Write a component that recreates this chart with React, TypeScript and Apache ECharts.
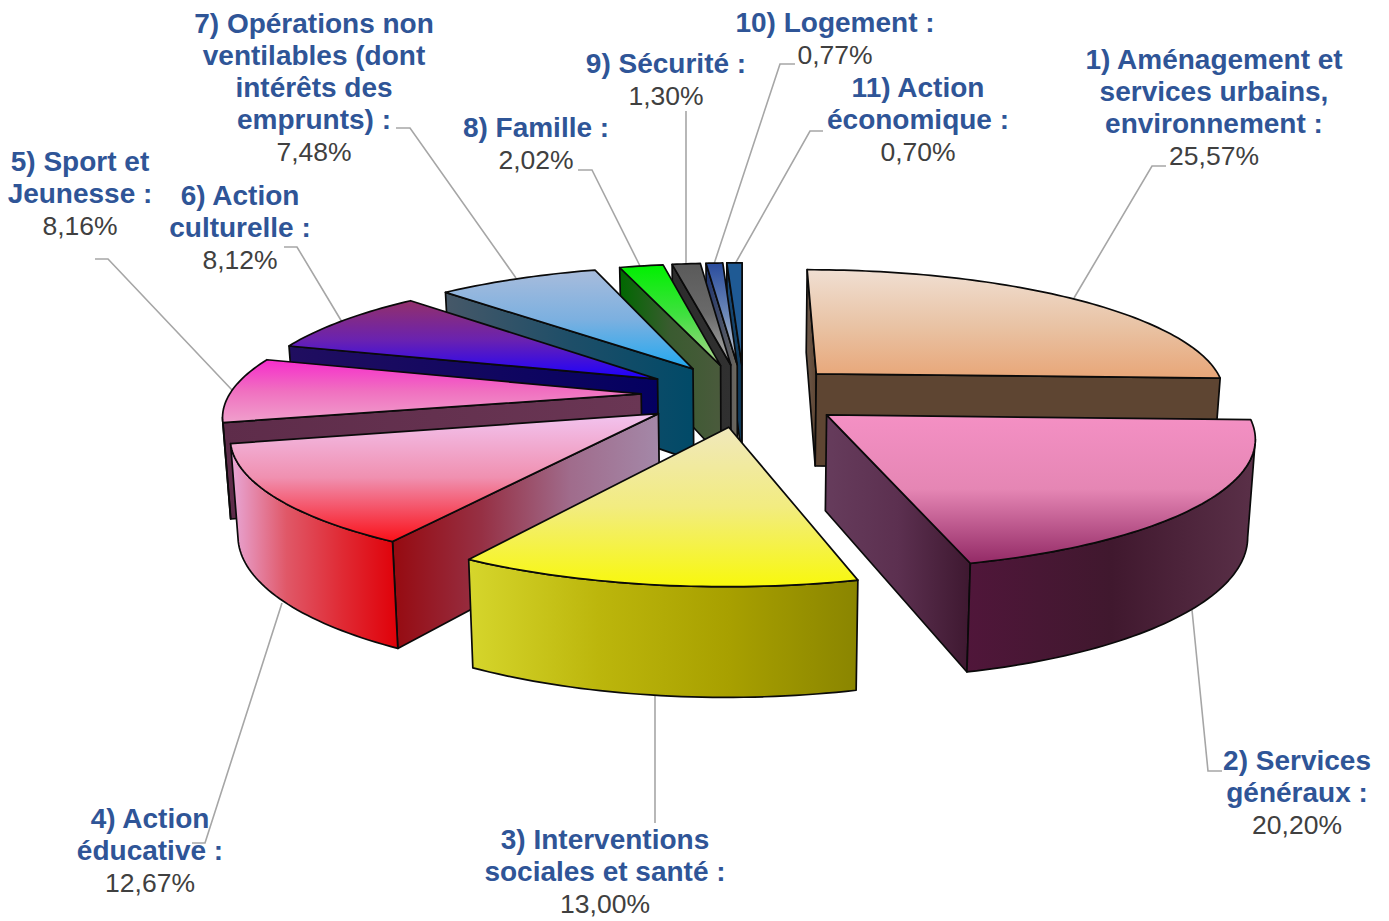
import React, { useEffect, useRef } from "react";
import * as echarts from "echarts";

const categories = [
  "1) Aménagement et services urbains, environnement",
  "2) Services généraux",
  "3) Interventions sociales et santé",
  "4) Action éducative",
  "5) Sport et Jeunesse",
  "6) Action culturelle",
  "7) Opérations non ventilables (dont intérêts des emprunts)",
  "8) Famille",
  "9) Sécurité",
  "10) Logement",
  "11) Action économique",
];
const sliceValues = [25.57, 20.2, 13.0, 12.67, 8.16, 8.12, 7.48, 2.02, 1.3, 0.77, 0.7];
const labelLines = [
  ["1) Aménagement et", "services urbains,", "environnement :"],
  ["2) Services", "généraux :"],
  ["3) Interventions", "sociales et santé :"],
  ["4) Action", "éducative :"],
  ["5) Sport et", "Jeunesse :"],
  ["6) Action", "culturelle :"],
  ["7) Opérations non", "ventilables (dont", "intérêts des", "emprunts) :"],
  ["8) Famille :"],
  ["9) Sécurité :"],
  ["10) Logement :"],
  ["11) Action", "économique :"],
];
const labelAnchors = [
  [1214, 60], [1297, 761], [605, 840], [150, 819], [80, 162], [240, 196],
  [314, 24], [536, 128], [666, 64], [835, 23], [918, 88],
];
const leaderLines = [
  [[1166, 166], [1152, 166], [1074, 298]],
  [[1222, 771], [1208, 771], [1192, 610]],
  [[655, 823], [655, 695]],
  [[192, 843], [205, 843], [282, 603]],
  [[95, 259], [108, 259], [232, 390]],
  [[284, 247], [297, 247], [342, 322]],
  [[396, 128], [410, 128], [516, 278]],
  [[578, 170], [592, 170], [640, 266]],
  [[686, 111], [686, 265]],
  [[795, 64], [780, 64], [714, 264]],
  [[823, 131], [810, 131], [735, 264]],
];
const topColors = [
  ["#F0DFD2", "#E9C4A6", "#E8A678"],
  ["#F490C4", "#E586B4", "#932A66"],
  ["#F0E8BC", "#F2EC80", "#F8F80C"],
  ["#F2C4F0", "#F090B0", "#FA1018"],
  ["#F62CCC", "#F070C0", "#F0A0CC"],
  ["#93306A", "#6A22B0", "#1C00FF"],
  ["#A8BCDC", "#7CB0E0", "#20A8F0"],
  ["#00F000", "#40E040", "#B0D090"],
  ["#5A5A5A", "#6A6A6A", "#B0B0B0"],
  ["#2A4C9C", "#6C88B8", "#D0D0D0"],
  ["#1F5A94", "#1F5A94", "#2A6090"],
];
const outerWallColors = [
  ["#5E4532", "#5E4532"],
  ["#50163A", "#40182E", "#5A3048"],
  ["#D6D62C", "#BCB60C", "#A8A000", "#8A8500"],
  ["#E8A8D8", "#E05868", "#E02A34", "#E00008"],
  ["#63324F", "#63324F"],
  ["#1C0B60", "#050060"],
  ["#415566", "#024A66"],
  ["#0A6A0A", "#4A5A3A"],
  ["#2E2E2E", "#2E2E2E"],
  ["#1F3570", "#706A5C"],
  ["#1A4A78", "#0F3A5A"],
];
const startWallColors = [
  ["#6E5A4C", "#5E4532"],
  ["#50163A", "#50163A"],
  ["#868000", "#868000"],
  ["#960A10", "#963044", "#A06C8C", "#A488A8"],
  ["#5E2C4A", "#6A3654"],
  ["#200E60", "#040060"],
  ["#465868", "#1E4E68", "#014A68"],
  ["#006800", "#3A5B30", "#4A5A3C"],
  ["#2C2C2C", "#303030"],
  ["#1F3570", "#706A5C"],
  ["#1A4A78", "#0F3A5A"],
];
const endWallColors = [
  ["#5E4532", "#5E4532"],
  ["#663C5C", "#5C3050", "#3E1830"],
];

const CX = 744, CY = 395, AX = 412, BZ = 125.3, K = 0.148, EXPLODE = 0.25, RADIUS = 1, THICK = 94;
const TOTAL = sliceValues.reduce((a, b) => a + b, 0);
const bounds: number[] = [0];
sliceValues.forEach((v, i) => bounds.push(bounds[i] + (v / TOTAL) * Math.PI * 2));

function top(X: number, Z: number) {
  const s = 1 / (1 - K * Z);
  return [CX + AX * X * s, CY + BZ * Z * s];
}
function bottom(X: number, Z: number) {
  const s = 1 / (1 - K * Z);
  const p = top(X, Z);
  return [CX + (p[0] - CX) * 0.985, p[1] + THICK * Math.pow(s, 0.8)];
}
function grad(colors: string[], horizontal: boolean) {
  const stops = colors.map((color, i) => ({ offset: i / (colors.length - 1), color }));
  return new echarts.graphic.LinearGradient(0, 0, horizontal ? 1 : 0, horizontal ? 0 : 1, stops);
}
const midAngle = (i: number) => (bounds[i] + bounds[i + 1]) / 2;
const order = sliceValues.map((_, i) => i).sort((a, b) => -Math.cos(midAngle(a)) + Math.cos(midAngle(b)));

function renderSlice(_params: any, api: any) {
  const i = api.value(0) as number;
  const mid = midAngle(i);
  const ox = EXPLODE * Math.sin(mid);
  const oz = -EXPLODE * Math.cos(mid);
  const N = Math.max(6, Math.ceil(sliceValues[i] * 3));
  const world: number[][] = [];
  for (let n = 0; n <= N; n++) {
    const t = bounds[i] + ((bounds[i + 1] - bounds[i]) * n) / N;
    world.push([ox + RADIUS * Math.sin(t), oz - RADIUS * Math.cos(t)]);
  }
  const tops = world.map((w) => top(w[0], w[1]));
  const bots = world.map((w) => bottom(w[0], w[1]));
  const aT = top(ox, oz);
  const aB = bottom(ox, oz);
  const line = { stroke: "#0a0a0a", lineWidth: 1.7, lineJoin: "round" };
  const children: any[] = [];
  const wall = (points: number[][], colors: string[]) =>
    children.push({ type: "polygon", shape: { points }, style: { fill: grad(colors, true), ...line } });
  if (tops[0][0] < aT[0]) wall([aT, tops[0], bots[0], aB], startWallColors[i]);
  if (tops[N][0] > aT[0]) wall([aT, tops[N], bots[N], aB], endWallColors[i] || outerWallColors[i]);
  const tp: number[][] = [];
  const bp: number[][] = [];
  for (let n = 0; n < N; n++) {
    if (tops[n + 1][0] < tops[n][0]) {
      if (!tp.length) { tp.push(tops[n]); bp.push(bots[n]); }
      tp.push(tops[n + 1]);
      bp.push(bots[n + 1]);
    }
  }
  if (tp.length) wall([...tp, ...bp.reverse()], outerWallColors[i]);
  children.push({
    type: "polygon",
    shape: { points: [aT, ...tops] },
    style: { fill: grad(topColors[i], false), ...line },
  });
  return { type: "group", children };
}

function percent(v: number) {
  return v.toFixed(2).replace(".", ",") + "%";
}

function buildGraphics() {
  const els: any[] = [];
  leaderLines.forEach((points) => {
    els.push({ type: "polyline", z: 0, shape: { points }, style: { fill: "none", stroke: "#A6A6A6", lineWidth: 1.6 } });
  });
  labelLines.forEach((lines, i) => {
    const [x, y] = labelAnchors[i];
    const font = "Liberation Sans";
    lines.forEach((text, n) => {
      els.push({
        type: "text", z: 5, x, y: y - 1 + n * 32.2,
        style: { text, fill: "#2F5597", font: `bold 28px "${font}"`, textAlign: "center", textVerticalAlign: "middle" },
      });
    });
    els.push({
      type: "text", z: 5, x, y: y + lines.length * 32 - 0.5,
      style: { text: percent(sliceValues[i]), fill: "#404040", font: `26.5px "${font}"`, textAlign: "center", textVerticalAlign: "middle" },
    });
  });
  return els;
}

export default function App() {
  const ref = useRef<HTMLDivElement>(null);
  useEffect(() => {
    document.body.style.margin = "0";
    const chart = echarts.init(ref.current!, undefined, { renderer: "svg" });
    chart.setOption({
      animation: false,
      backgroundColor: "#ffffff",
      graphic: { elements: buildGraphics() },
      series: [
        {
          type: "custom",
          name: categories.join(" / "),
          coordinateSystem: "none",
          silent: true,
          renderItem: renderSlice,
          data: order.map((i) => [i, sliceValues[i]]),
        },
      ],
    });
    return () => chart.dispose();
  }, []);
  return <div ref={ref} style={{ position: "absolute", left: 0, top: 0, width: 1389, height: 921 }} />;
}
